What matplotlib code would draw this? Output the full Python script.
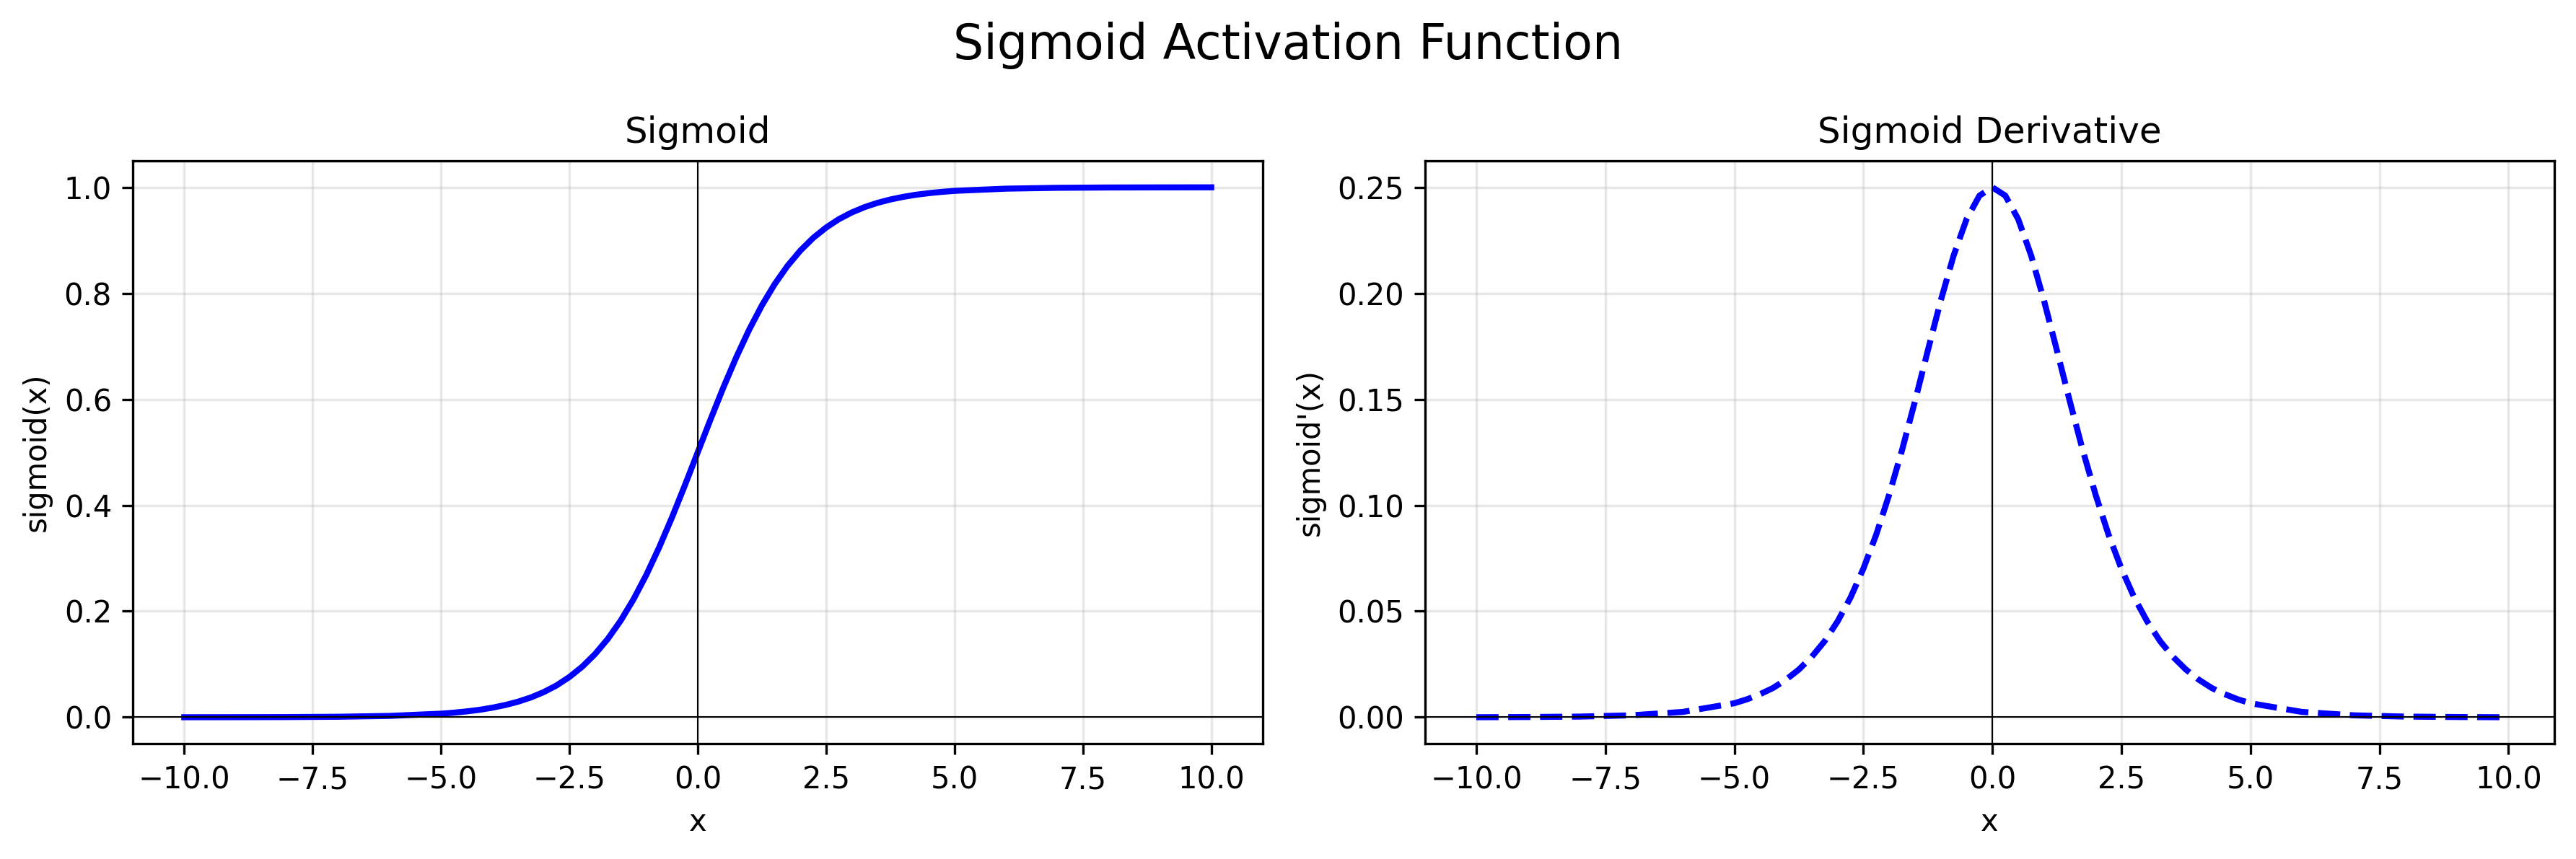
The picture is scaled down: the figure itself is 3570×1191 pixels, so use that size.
import matplotlib
matplotlib.use("Agg")
import matplotlib.pyplot as plt

# x positions (finer near the middle)
x_vals = [-10, -9, -8, -7, -6, -5, -4.75, -4.5, -4.25, -4, -3.75, -3.5, -3.25,
          -3, -2.75, -2.5, -2.25, -2, -1.75, -1.5, -1.25, -1, -0.75, -0.5,
          -0.25, 0, 0.25, 0.5, 0.75, 1, 1.25, 1.5, 1.75, 2, 2.25, 2.5, 2.75,
          3, 3.25, 3.5, 3.75, 4, 4.25, 4.5, 4.75, 5, 6, 7, 8, 9, 10]

sigmoid_vals = [0.0000, 0.0001, 0.0003, 0.0009, 0.0025, 0.0067, 0.0086, 0.0110,
                0.0140, 0.0180, 0.0230, 0.0293, 0.0373, 0.0474, 0.0600, 0.0759,
                0.0953, 0.1192, 0.1480, 0.1824, 0.2227, 0.2689, 0.3208, 0.3775,
                0.4378, 0.5000, 0.5622, 0.6225, 0.6792, 0.7311, 0.7773, 0.8176,
                0.8520, 0.8808, 0.9047, 0.9241, 0.9400, 0.9526, 0.9627, 0.9707,
                0.9770, 0.9820, 0.9860, 0.9890, 0.9914, 0.9933, 0.9975, 0.9991,
                0.9997, 0.9999, 1.0000]

# derivative curve stops just short of 10
dx_vals = x_vals[:-1] + [9.9]
deriv_vals = [0.0000, 0.0001, 0.0003, 0.0009, 0.0025, 0.0066, 0.0085, 0.0109,
              0.0138, 0.0177, 0.0225, 0.0285, 0.0359, 0.0452, 0.0564, 0.0701,
              0.0862, 0.1050, 0.1261, 0.1491, 0.1731, 0.1966, 0.2179, 0.2350,
              0.2461, 0.2500, 0.2461, 0.2350, 0.2179, 0.1966, 0.1731, 0.1491,
              0.1261, 0.1050, 0.0862, 0.0701, 0.0564, 0.0452, 0.0359, 0.0285,
              0.0225, 0.0177, 0.0138, 0.0109, 0.0085, 0.0066, 0.0025, 0.0009,
              0.0003, 0.0001, 0.0000]

fig, (ax1, ax2) = plt.subplots(1, 2, figsize=(12, 4))

ax1.plot(x_vals, sigmoid_vals, color='blue', linewidth=2)
ax1.set_title('Sigmoid')
ax1.set_xlabel('x')
ax1.set_ylabel('sigmoid(x)')
ax1.grid(True, alpha=0.3)
ax1.axhline(y=0, color='k', linewidth=0.5)
ax1.axvline(x=0, color='k', linewidth=0.5)

ax2.plot(dx_vals, deriv_vals, color='blue', linestyle='--', linewidth=2)
ax2.set_title('Sigmoid Derivative')
ax2.set_xlabel('x')
ax2.set_ylabel("sigmoid'(x)")
ax2.grid(True, alpha=0.3)
ax2.axhline(y=0, color='k', linewidth=0.5)
ax2.axvline(x=0, color='k', linewidth=0.5)

fig.suptitle('Sigmoid Activation Function', fontsize=16)
plt.tight_layout()
plt.savefig('out.png', dpi=300, bbox_inches='tight')
